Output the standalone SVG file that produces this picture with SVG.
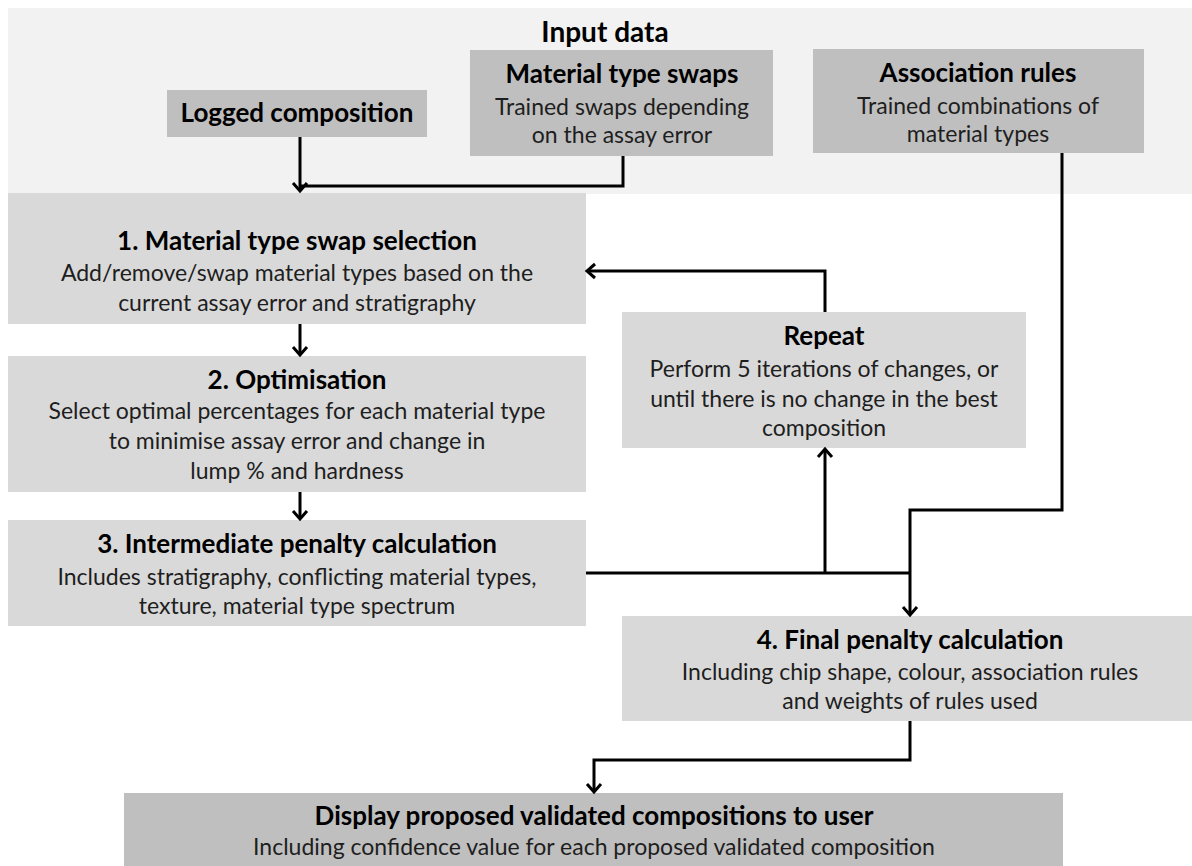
<svg xmlns="http://www.w3.org/2000/svg" width="1192" height="866" viewBox="0 0 1192 866">
<defs>
<style>
.panel{fill:#f2f2f2}
.inp{fill:#bfbfbf}
.proc{fill:#d9d9d9}
.t{font-family:Lato,"Open Sans","Liberation Sans",sans-serif;font-weight:bold;font-size:26px;fill:#000;text-anchor:middle}
.h{font-family:Lato,"Open Sans","Liberation Sans",sans-serif;font-weight:bold;font-size:28px;fill:#000;text-anchor:middle}
.b{font-family:Lato,"Open Sans","Liberation Sans",sans-serif;font-size:23px;fill:#1e1e1e;text-anchor:middle}
.c{fill:none;stroke:#000;stroke-width:3}
</style>
<marker id="arr" markerUnits="userSpaceOnUse" markerWidth="14" markerHeight="18" refX="11" refY="9" orient="auto" viewBox="0 0 14 18">
<path d="M3,2 L11,9 L3,16" fill="none" stroke="#000" stroke-width="3"/>
</marker>
</defs>
<rect class="panel" x="8" y="8" width="1184" height="186"/>
<text class="h" x="605" y="42">Input data</text>

<g id="logged">
<rect class="inp" x="167" y="90" width="260" height="47"/>
<text class="t" x="297" y="122">Logged composition</text>
</g>
<g id="swaps">
<rect class="inp" x="470" y="50" width="303" height="106"/>
<text class="t" x="622" y="83">Material type swaps</text>
<text class="b" x="622" y="115">Trained swaps depending</text>
<text class="b" x="622" y="143">on the assay error</text>
</g>
<g id="assoc">
<rect class="inp" x="813" y="49" width="331" height="104"/>
<text class="t" x="978" y="82">Association rules</text>
<text class="b" x="978" y="114">Trained combinations of</text>
<text class="b" x="978" y="142">material types</text>
</g>
<g id="step1">
<rect class="proc" x="8" y="193" width="578" height="131"/>
<text class="t" x="297" y="250">1. Material type swap selection</text>
<text class="b" x="297" y="281">Add/remove/swap material types based on the</text>
<text class="b" x="297" y="311">current assay error and stratigraphy</text>
</g>
<g id="step2">
<rect class="proc" x="8" y="356" width="578" height="136"/>
<text class="t" x="297" y="389">2. Optimisation</text>
<text class="b" x="297" y="419">Select optimal percentages for each material type</text>
<text class="b" x="297" y="449">to minimise assay error and change in</text>
<text class="b" x="297" y="479">lump % and hardness</text>
</g>
<g id="step3">
<rect class="proc" x="8" y="520" width="578" height="106"/>
<text class="t" x="297" y="553">3. Intermediate penalty calculation</text>
<text class="b" x="297" y="585">Includes stratigraphy, conflicting material types,</text>
<text class="b" x="297" y="614">texture, material type spectrum</text>
</g>
<g id="repeat">
<rect class="proc" x="622" y="312" width="404" height="136"/>
<text class="t" x="824" y="345">Repeat</text>
<text class="b" x="824" y="377">Perform 5 iterations of changes, or</text>
<text class="b" x="824" y="407">until there is no change in the best</text>
<text class="b" x="824" y="436">composition</text>
</g>
<g id="step4">
<rect class="proc" x="622" y="616" width="570" height="105"/>
<text class="t" x="910" y="649">4. Final penalty calculation</text>
<text class="b" x="910" y="680">Including chip shape, colour, association rules</text>
<text class="b" x="910" y="709">and weights of rules used</text>
</g>
<g id="display">
<rect class="inp" x="124" y="793" width="939" height="73"/>
<text class="t" x="594" y="825">Display proposed validated compositions to user</text>
<text class="b" x="594" y="855">Including confidence value for each proposed validated composition</text>
</g>

<g id="connectors">
<path class="c" d="M300,137 V191" marker-end="url(#arr)"/>
<path class="c" d="M623,156 V186 H300"/>
<path class="c" d="M300,324 V355" marker-end="url(#arr)"/>
<path class="c" d="M300,492 V519" marker-end="url(#arr)"/>
<path class="c" d="M586,573 H910"/>
<path class="c" d="M825,573 V449" marker-end="url(#arr)"/>
<path class="c" d="M825,312 V271 H587" marker-end="url(#arr)"/>
<path class="c" d="M1062,153 V510 H910 V615" marker-end="url(#arr)"/>
<path class="c" d="M910,721 V760 H594 V792" marker-end="url(#arr)"/>
</g>
</svg>
